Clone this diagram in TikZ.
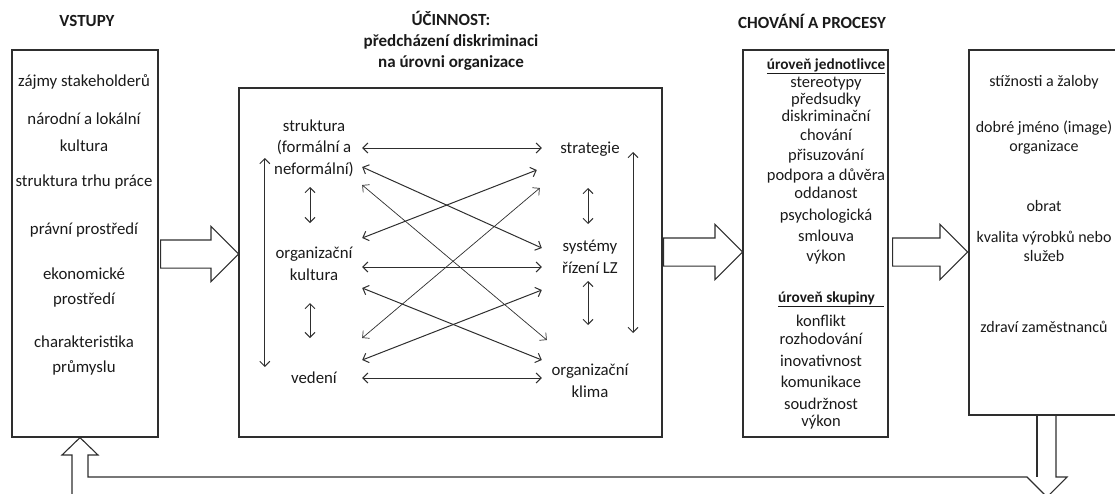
\documentclass[tikz,border=0pt]{standalone}
\usepackage{fontspec}
\setmainfont{Carlito}
\usetikzlibrary{arrows.meta, positioning, calc, shapes.arrows}
\definecolor{linecol}{HTML}{2E2E2E}
\definecolor{textcol}{HTML}{1A1A1A}

\begin{document}
\begin{tikzpicture}[x=1pt, y=-1pt, font=\fontsize{16.8}{21.5}\selectfont, text=textcol,
    box/.style={rectangle, draw=linecol, line width=1.2pt, inner sep=0pt},
    title/.style={font=\fontsize{17}{21}\selectfont\bfseries, align=center, inner sep=0pt},
    item/.style={align=center, inner sep=0pt, text height=12pt, text depth=4pt},
    small/.style={font=\fontsize{16.5}{20}\selectfont},
    head/.style={font=\fontsize{15.3}{20}\selectfont\bfseries},
    col/.style={align=center, inner sep=0pt, minimum width=96pt},
    link/.style={{Straight Barb[length=5pt, width=10pt]}-{Straight Barb[length=5pt, width=10pt]}, line width=1pt, draw=linecol},
    thinlink/.style={link, line width=0.7pt},
    fatarrow/.style={single arrow, draw=linecol, line width=1.1pt, inner sep=0pt, inner ysep=13.5pt, single arrow head extend=13.5pt, anchor=tail}
]
\useasboundingbox (0,0) rectangle (1115,493);

% Boxes
\node[box, minimum width=146pt, minimum height=387pt] (inputs) at (85,243.5) {};
\node[box, minimum width=423pt, minimum height=349pt] (eff) at (450.5,262.5) {};
\node[box, minimum width=145pt, minimum height=387pt] (beh) at (815.5,243.5) {};
\node[box, minimum width=162pt, minimum height=365pt] (outc) at (1050,232.5) {};

% Titles
\node[title] (tin) at (87,21) {VSTUPY};
\node[title] (teff) at (451,41) {ÚČINNOST:\\předcházení diskriminaci\\na úrovni organizace};
\node[title] (tbeh) at (812,21) {CHOVÁNÍ A PROCESY};

% Inputs
\foreach \y/\t [count=\i] in {82/zájmy stakeholderů, 120/národní a lokální, 147/kultura,
    182/struktura trhu práce, 230/právní prostředí, 275/ekonomické, 300/prostředí,
    343/charakteristika, 368/průmyslu}
  \node[item] (in\i) at (84,\y) {\t};

% Effectiveness: organisation factors
\node[col] (str) at (314,148) {struktura\\(formální a\\neformální)};
\node[col] (kul) at (314,264) {organizační\\kultura};
\node[col] (ved) at (314,378) {vedení};
\node[col] (stra) at (590,149) {strategie};
\node[col] (sys) at (590,257) {systémy\\řízení LZ};
\node[col] (kli) at (590,381) {organizační\\klima};

\draw[link] (str.east) -- (str.east -| stra.west);
\draw[link] ([yshift=-19pt]str.east) -- ([yshift=9pt]sys.west);
\draw[thinlink] ([yshift=-37pt]str.east) -- ([xshift=5pt,yshift=41pt]kli.west);
\draw[link] ([yshift=26pt]kul.east) -- ([xshift=-5pt,yshift=-21pt]stra.west);
\draw[link] ([yshift=-3pt]kul.east) -- ([yshift=-3pt]kul.east -| sys.west);
\draw[link] ([yshift=-24pt]kul.east) -- ([yshift=21pt]kli.west);
\draw[thinlink] ([xshift=-2pt,yshift=-39pt]stra.west) -- ([yshift=40pt]ved.east);
\draw[link] ([yshift=18pt]ved.east) -- ([yshift=-33pt]sys.west);
\draw[link] (ved.east) -- (ved.east -| kli.west);

\draw[link] ([xshift=-1pt,yshift=-10pt]str.west) -- ([xshift=-1pt,yshift=11pt]ved.west);
\draw[link] ([xshift=-4pt,yshift=-39pt]str.center) -- ([xshift=-4pt,yshift=41pt]kul.center);
\draw[link] ([xshift=-4pt,yshift=-39pt]kul.center) -- ([xshift=-4pt,yshift=40pt]ved.center);
\draw[link] ([xshift=43pt,yshift=-3pt]stra.center) -- ([xshift=43pt,yshift=48pt]kli.center);
\draw[link] ([xshift=-2pt,yshift=-39pt]stra.center) -- ([xshift=-2pt,yshift=33pt]sys.center);
\draw[link] ([xshift=-2pt,yshift=-24pt]sys.center) -- ([xshift=-2pt,yshift=56pt]kli.center);

% Behaviour and processes
\node[item, head] (ind) at (826,65) {\underline{úroveň jednotlivce}};
\foreach \y/\t [count=\i] in {83/stereotypy, 100/předsudky, 117/diskriminační, 136/chování,
    156/přisuzování, 176/podpora a důvěra, 194/oddanost, 216/psychologická,
    237/smlouva, 257/výkon}
  \node[item, small] (ind\i) at (826,\y) {\t};
\node[item, head] (grp) at (831,298) {\underline{úroveň skupiny\hspace{9pt}}};
\foreach \y/\t [count=\i] in {322/konflikt, 340/rozhodování, 362/inovativnost,
    383/komunikace, 405/soudržnost, 422/výkon}
  \node[item, small] (grp\i) at (821,\y) {\t};

% Outcomes
\foreach \y/\t [count=\i] in {82/stížnosti a žaloby, 128/dobré jméno (image), 147/organizace,
    207/obrat, 238/kvalita výrobků nebo, 257/služeb, 328/zdraví zaměstnanců}
  \node[item, font=\fontsize{16}{20}\selectfont] (out\i) at (1044,\y) {\t};

% Hollow arrows between stages
\node[fatarrow, minimum height=78pt] (a1) at (160,254) {};
\node[fatarrow, minimum height=79pt] (a2) at (663,252) {};
\node[fatarrow, minimum height=75pt] (a3) at (892,252) {};

% Feedback loop
\draw[linecol, line width=1.1pt] (72,496) -- (72,455) -- (62,455) -- (inputs.south -| 80,0)
  -- (98,455) -- (88,455) -- (88,477) -- (1027,477) -- (1047,497) -- (1067,477)
  -- (1056,477) -- (outc.south -| 1056,0);
\draw[linecol, line width=1.1pt] (outc.south -| 1037,0) -- (1037,477);
\draw[linecol, line width=1.1pt] (72,495) -- (1027,495);

\end{tikzpicture}
\end{document}
